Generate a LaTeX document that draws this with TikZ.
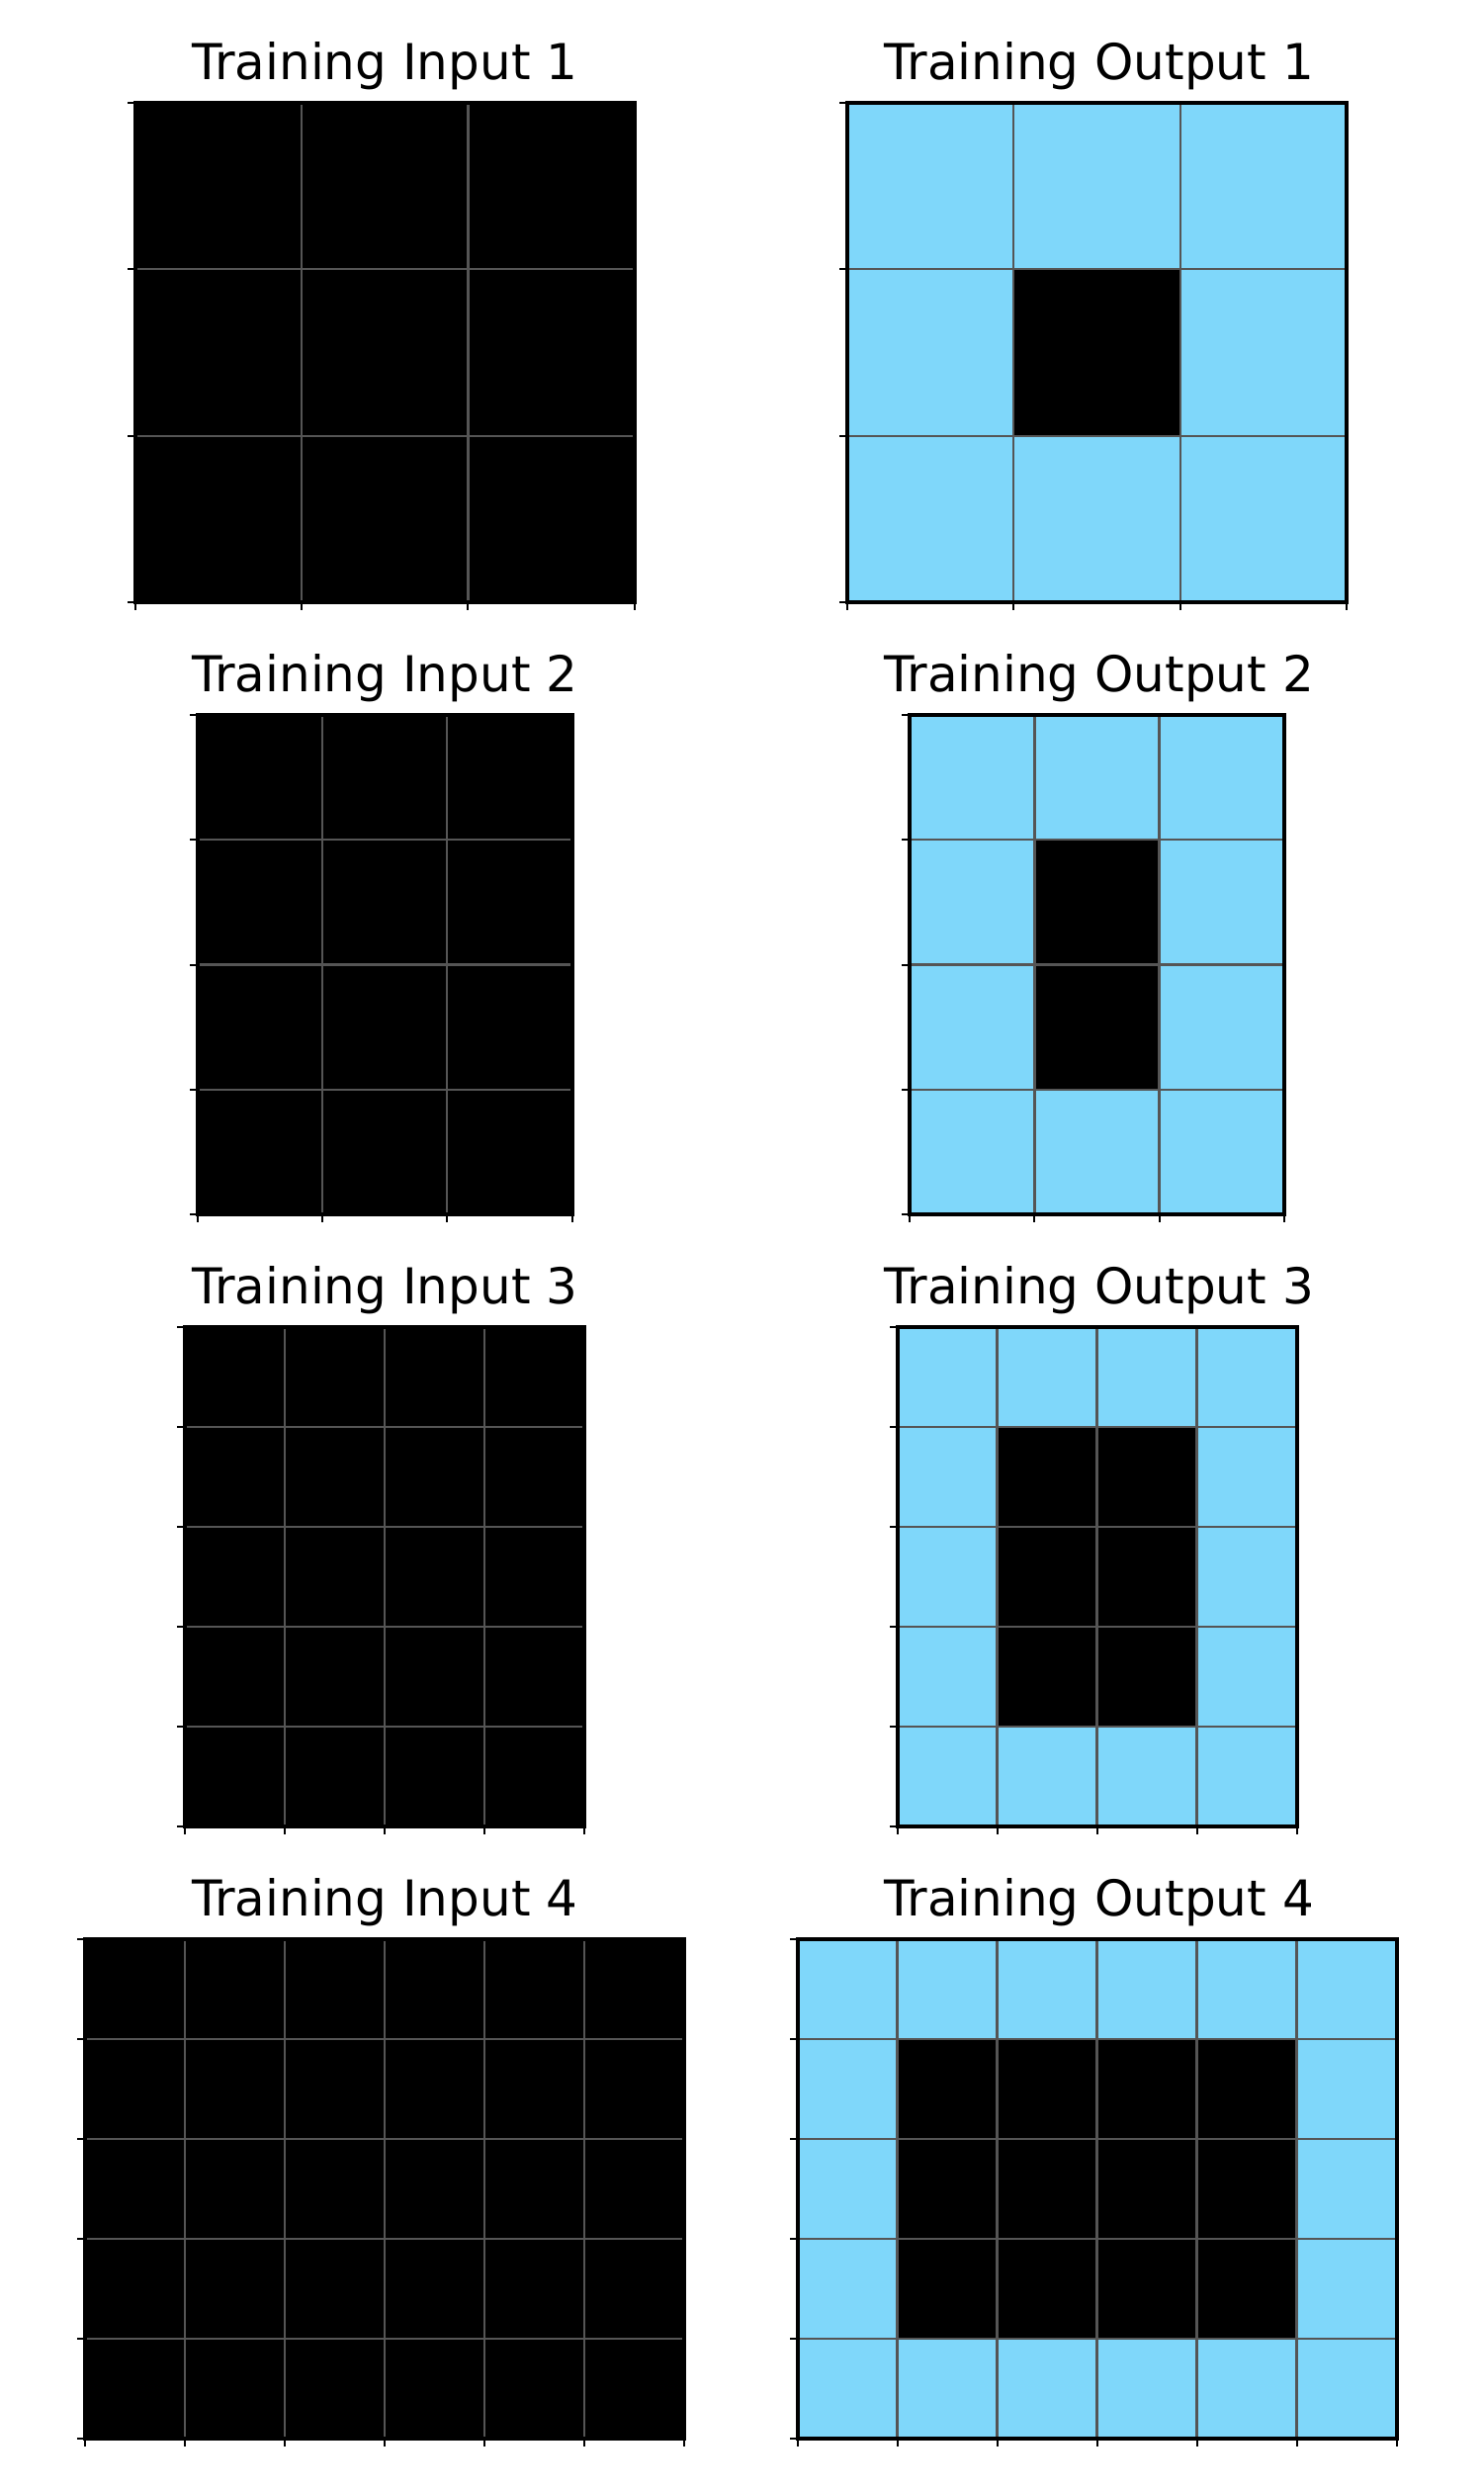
\documentclass[tikz,border=0pt]{standalone}
\usepackage{fontspec}
\setmainfont{DejaVu Sans}
\definecolor{arcblue}{HTML}{7FD7FA}
\definecolor{gridgray}{HTML}{555555}
\tikzset{
  gtitle/.style={anchor=base,font=\fontsize{50}{60}\selectfont,inner sep=0pt},
  gridline/.style={draw=gridgray,line width=2.3pt},
  spine/.style={draw=black,line width=4pt},
  tickmark/.style={draw=black,line width=2pt}
}
% #1 x0, #2 y0, #3 cols, #4 rows, #5 cell, #6 mode (0 input, 1 output)
\newcommand{\arcgrid}[6]{%
  \begin{scope}[shift={(#1,#2)}]
    \pgfmathsetmacro\gw{#3*#5}
    \pgfmathsetmacro\gh{#4*#5}
    \pgfmathtruncatemacro\cmo{#3-1}
    \pgfmathtruncatemacro\rmo{#4-1}
    \ifnum#6=1
      \fill[arcblue] (0,0) rectangle (\gw,\gh);
      \fill[black] (#5,#5) rectangle ({\cmo*#5},{\rmo*#5});
    \else
      \fill[black] (0,0) rectangle (\gw,\gh);
    \fi
    \foreach \i in {1,...,\cmo} {\draw[gridline] ({\i*#5},0) -- ({\i*#5},\gh);}
    \foreach \j in {1,...,\rmo} {\draw[gridline] (0,{\j*#5}) -- (\gw,{\j*#5});}
    \draw[spine] (0,0) rectangle (\gw,\gh);
    \foreach \j in {0,...,#4} {\draw[tickmark] (0,{\j*#5}) -- (-8,{\j*#5});}
    \foreach \i in {0,...,#3} {\draw[tickmark] ({\i*#5},\gh) -- ({\i*#5},\gh+8);}
  \end{scope}%
}
\begin{document}
\begin{tikzpicture}[x=1pt,y=-1pt]
  \useasboundingbox (0,0) rectangle (1500,2519);
  \fill[white] (0,0) rectangle (1500,2519);
  % Row 1
  \node[gtitle] (tin1) at (389.2,80) {Training Input 1};
  \node[gtitle] (tout1) at (1111.5,80) {Training Output 1};
  \arcgrid{136.7}{104}{3}{3}{168.33}{0}
  \arcgrid{857}{104}{3}{3}{168.33}{1}
  % Row 2
  \node[gtitle] (tin2) at (389.2,699) {Training Input 2};
  \node[gtitle] (tout2) at (1111.5,699) {Training Output 2};
  \arcgrid{199.8}{723}{3}{4}{126.25}{0}
  \arcgrid{920.1}{723}{3}{4}{126.25}{1}
  % Row 3
  \node[gtitle] (tin3) at (389.2,1318) {Training Input 3};
  \node[gtitle] (tout3) at (1111.5,1318) {Training Output 3};
  \arcgrid{187.2}{1342}{4}{5}{101}{0}
  \arcgrid{907.5}{1342}{4}{5}{101}{1}
  % Row 4
  \node[gtitle] (tin4) at (389.2,1937) {Training Input 4};
  \node[gtitle] (tout4) at (1111.5,1937) {Training Output 4};
  \arcgrid{86.2}{1961}{6}{5}{101}{0}
  \arcgrid{806.5}{1961}{6}{5}{101}{1}
\end{tikzpicture}
\end{document}
